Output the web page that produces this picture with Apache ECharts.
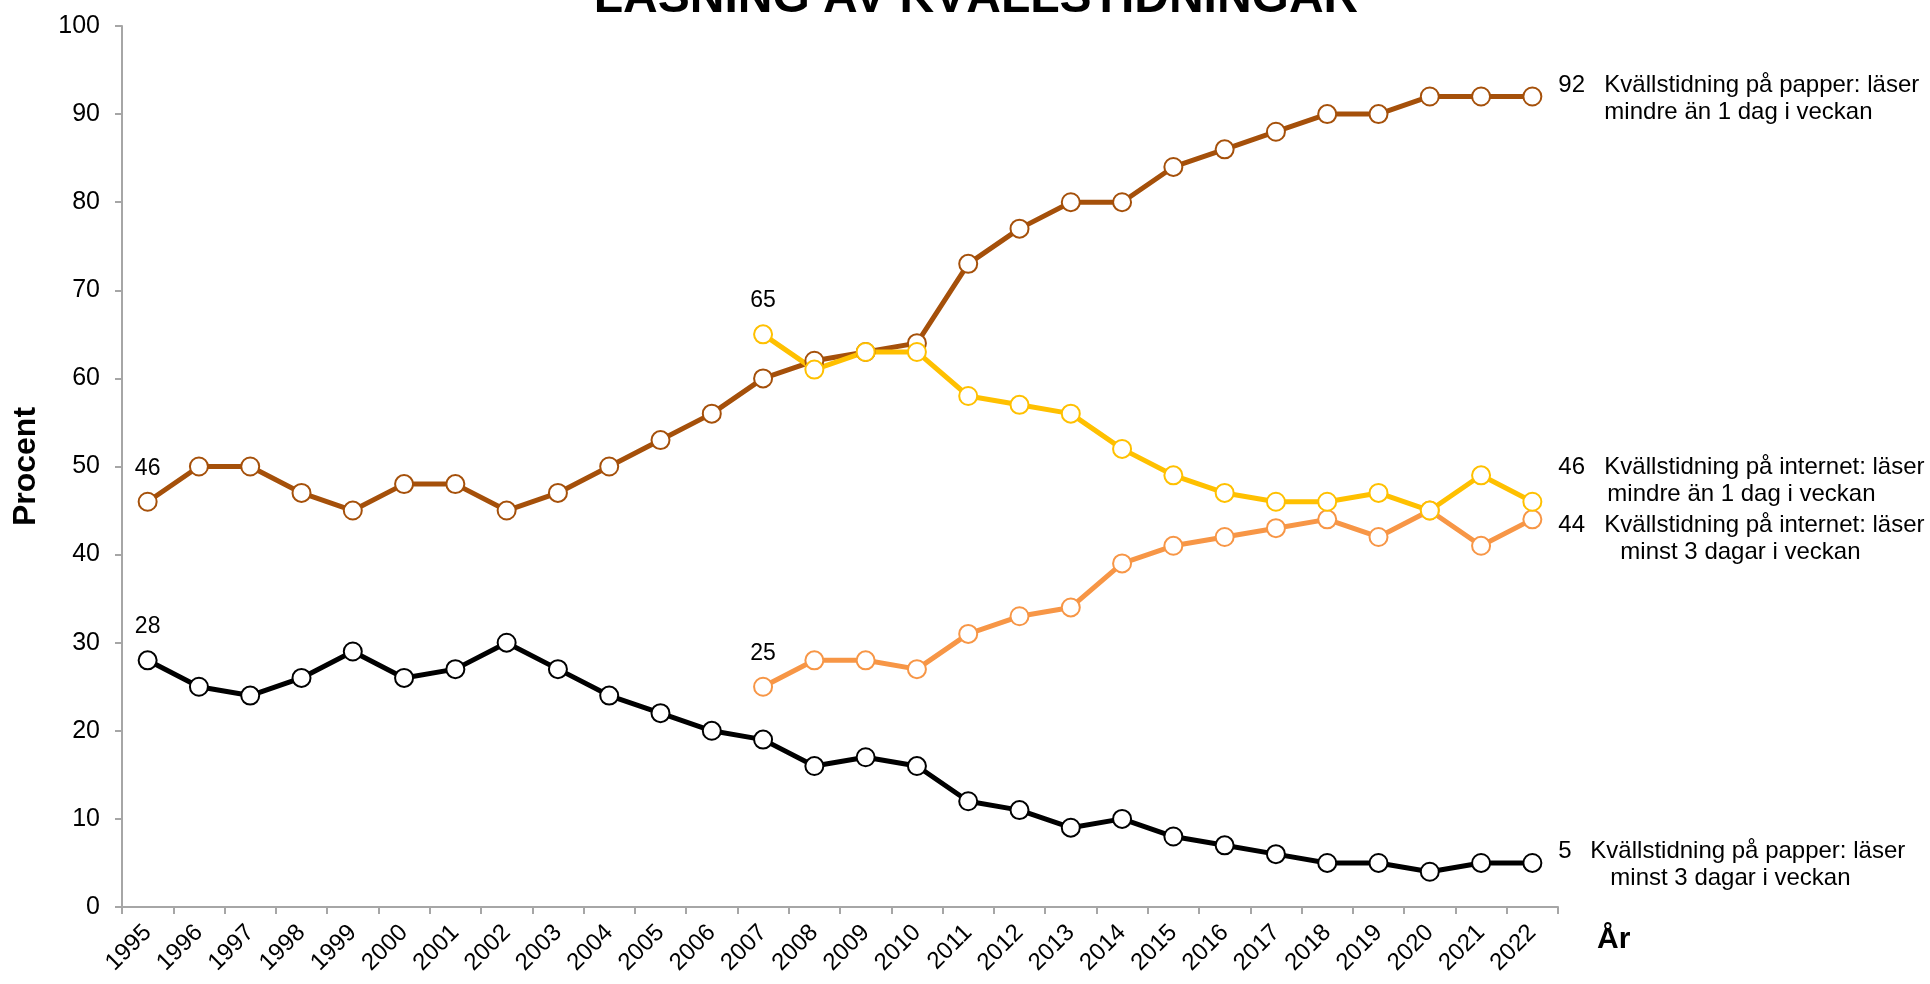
<!DOCTYPE html>
<html>
<head>
<meta charset="utf-8">
<title>Läsning av kvällstidningar</title>
<script src="https://cdn.jsdelivr.net/npm/echarts@6/dist/echarts.min.js"></script>
<style>
  html, body { margin: 0; padding: 0; background: #fff; }
  #main { width: 1930px; height: 984px; }
</style>
</head>
<body>
<div id="main"></div>
<script>
// år på x-axeln
const years = ['1995', '1996', '1997', '1998', '1999', '2000', '2001', '2002', '2003', '2004',
  '2005', '2006', '2007', '2008', '2009', '2010', '2011', '2012', '2013', '2014',
  '2015', '2016', '2017', '2018', '2019', '2020', '2021', '2022'];

// papper: läser mindre än 1 dag i veckan
const paperRarely = [46, 50, 50, 47, 45, 48, 48, 45, 47, 50, 53, 56, 60, 62, 63, 64,
  73, 77, 80, 80, 84, 86, 88, 90, 90, 92, 92, 92];

// papper: läser minst 3 dagar i veckan
const paperOften = [28, 25, 24, 26, 29, 26, 27, 30, 27, 24, 22, 20, 19, 16, 17, 16,
  12, 11, 9, 10, 8, 7, 6, 5, 5, 4, 5, 5];

// internet: läser mindre än 1 dag i veckan (från 2007)
const webRarely = [null, null, null, null, null, null, null, null, null, null, null, null,
  65, 61, 63, 63, 58, 57, 56, 52, 49, 47, 46, 46, 47, 45, 49, 46];

// internet: läser minst 3 dagar i veckan (från 2007)
const webOften = [null, null, null, null, null, null, null, null, null, null, null, null,
  25, 28, 28, 27, 31, 33, 34, 39, 41, 42, 43, 44, 42, 45, 41, 44];

const yTicks = { min: 0, max: 100, interval: 10 };

const FONT = '"Liberation Sans", Arial, sans-serif';

var myChart = echarts.init(document.getElementById('main'));

// värdeetikett bara på första punkten i serien
function withFirstLabel(values) {
  var first = values.findIndex(function (v) { return v !== null; });
  return values.map(function (v, i) {
    if (i === first) {
      return { value: v, label: { show: true } };
    }
    return v;
  });
}

function makeSeries(name, values, color, endText, pad, numWidth, offset) {
  return {
    name: name,
    type: 'line',
    data: withFirstLabel(values),
    symbol: 'circle',
    symbolSize: 18,
    lineStyle: { color: color, width: 5 },
    itemStyle: { color: '#fff', borderColor: color, borderWidth: 2 },
    label: {
      show: false,
      position: 'top',
      distance: 12,
      color: '#000',
      fontFamily: FONT,
      fontSize: 23
    },
    endLabel: {
      show: true,
      distance: 26,
      offset: offset,
      formatter: function (p) {
        return '{v|' + p.value + '}{t|' + endText[0] + '}\n{p| }{t|' + endText[1] + '}';
      },
      rich: {
        v: { width: numWidth, fontSize: 24, fontFamily: FONT, color: '#000', lineHeight: 27 },
        t: { fontSize: 24, fontFamily: FONT, color: '#000', lineHeight: 27 },
        p: { width: pad, fontSize: 24, lineHeight: 27 }
      }
    },
    emphasis: { disabled: true },
    animation: false
  };
}

var option = {
  backgroundColor: '#fff',
  title: {
    text: 'LÄSNING AV KVÄLLSTIDNINGAR',
    left: 976,
    textAlign: 'center',
    top: -25,
    padding: 0,
    textStyle: { fontFamily: FONT, fontWeight: 'bold', fontSize: 48, lineHeight: 48, color: '#000' }
  },
  grid: { left: 122, right: 372, top: 26, bottom: 77 },
  xAxis: {
    type: 'category',
    data: years,
    boundaryGap: true,
    name: 'År',
    nameLocation: 'end',
    nameGap: 39,
    nameTextStyle: {
      fontFamily: FONT, fontWeight: 'bold', fontSize: 30, color: '#000',
      align: 'left', verticalAlign: 'top', padding: [18, 0, 0, 0]
    },
    axisLine: { lineStyle: { color: '#a6a6a6', width: 2 } },
    axisTick: { show: true, length: 7, lineStyle: { color: '#a6a6a6', width: 2 } },
    axisLabel: { interval: 0, rotate: 45, margin: 22, fontFamily: FONT, fontSize: 24, color: '#000' },
    splitLine: { show: false }
  },
  yAxis: {
    type: 'value',
    min: yTicks.min,
    max: yTicks.max,
    interval: yTicks.interval,
    name: 'Procent',
    nameLocation: 'middle',
    nameGap: 80,
    nameTextStyle: { fontFamily: FONT, fontWeight: 'bold', fontSize: 32, color: '#000' },
    axisLine: { show: true, lineStyle: { color: '#a6a6a6', width: 2 } },
    axisTick: { show: true, length: 7, lineStyle: { color: '#a6a6a6', width: 2 } },
    axisLabel: { margin: 22, fontFamily: FONT, fontSize: 25, color: '#000' },
    splitLine: { show: false }
  },
  series: [
    makeSeries('Papper mindre än 1 dag', paperRarely, '#a5500a',
      ['Kvällstidning på papper: läser', 'mindre än 1 dag i veckan'], 46, 46, [0, 2]),
    makeSeries('Papper minst 3 dagar', paperOften, '#000000',
      ['Kvällstidning på papper: läser', 'minst 3 dagar i veckan'], 52, 32, [0, 2]),
    makeSeries('Internet minst 3 dagar', webOften, '#f79646',
      ['Kvällstidning på internet: läser', 'minst 3 dagar i veckan'], 62, 46, [0, 20]),
    makeSeries('Internet mindre än 1 dag', webRarely, '#ffc000',
      ['Kvällstidning på internet: läser', 'mindre än 1 dag i veckan'], 49, 46, [0, -21])
  ]
};

myChart.setOption(option);

window.addEventListener('resize', function () {
  myChart.resize();
});
</script>
</body>
</html>
